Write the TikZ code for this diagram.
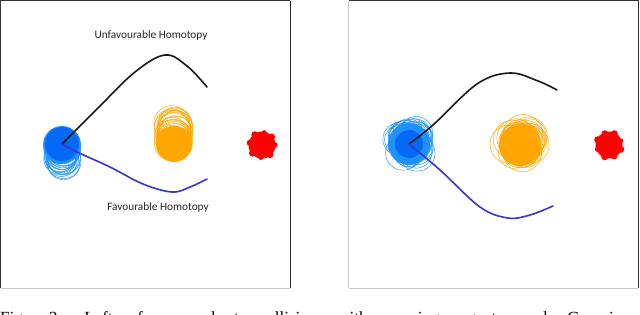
\documentclass[tikz,border=0pt]{standalone}
\usepackage{fontspec}
\newfontfamily\labfont{Carlito}
\newfontfamily\capfont{Liberation Serif}
\definecolor{blueA}{RGB}{5,105,245}
\definecolor{blueB}{RGB}{30,145,255}
\definecolor{orangeA}{RGB}{255,166,0}
\definecolor{redA}{RGB}{255,0,0}
\definecolor{pathblue}{RGB}{55,55,200}
\definecolor{darkedge}{RGB}{50,50,50}
\definecolor{lightedge}{RGB}{200,200,200}
\tikzset{
  traj/.style={line width=1.6pt, line cap=round, line join=round},
  lab/.style={font=\labfont\fontsize{11.3}{13}\selectfont, inner sep=0pt, text=black!85},
  ring/.style={line width=0.45pt},
}
\begin{document}
\begin{tikzpicture}[x=1pt,y=-1pt]
\useasboundingbox (0,0) rectangle (640,314);
\fill[white] (0,0) rectangle (640,314);
% ---------- panel frames ----------
\draw[darkedge, line width=0.8pt] (0.5,288) -- (0.5,0.5) -- (290,0.5);
\draw[black!85, line width=1pt] (290,0.5) -- (290,288);
\draw[lightedge, line width=0.8pt] (0.5,288) -- (290,288);
\draw[lightedge, line width=0.8pt] (348.5,288) -- (348.5,0.5);
\draw[darkedge, line width=0.8pt] (348.5,0.5) -- (638,0.5) -- (638,288);
\draw[lightedge, line width=0.8pt] (348.5,288) -- (638,288);

% ---------- LEFT PANEL ----------
\pgfmathsetseed{11}
% blue agent trail (downwards)
\foreach \i in {1,...,22}{
  \pgfmathsetmacro\dx{rand*2.5}
  \pgfmathsetmacro\dy{rnd*21}
  \pgfmathsetmacro\rr{15+rnd*2.5}
  \draw[blueB, ring] (62+\dx,144+\dy) circle[radius=\rr];
}
\fill[blueB] (62,145) circle[radius=19];
\fill[blueA] (62,144) circle[radius=17];
% orange trail (upwards)
\foreach \i in {1,...,22}{
  \pgfmathsetmacro\dx{rand*2.5}
  \pgfmathsetmacro\dy{rnd*21}
  \pgfmathsetmacro\rr{16+rnd*2}
  \draw[orangeA, ring] (174+\dx,144-\dy) circle[radius=\rr];
}
\fill[orangeA] (174,144) circle[radius=18];
% red obstacle
\fill[redA] (262,145) circle[radius=13.5];
\foreach \a/\r in {0/3,50/3.5,95/2.5,140/3.5,190/3,235/3.5,280/2.5,320/3.5}{
  \fill[redA] (262,145) ++(\a:12.5) circle[radius=\r];
}
% trajectories
\coordinate (L0) at (62,144);
\draw[traj, black!90] plot[smooth, tension=0.6] coordinates {(L0) (98,108) (135,72) (165,55) (187,66) (207,87)};
\draw[traj, pathblue] plot[smooth, tension=0.6] coordinates {(L0) (77,152) (110,167) (143,184) (172,192) (190,187) (207,179)};
\node[lab] (unfav) at (151,35) {Unfavourable Homotopy};
\node[lab] (fav) at (158,207) {Favourable Homotopy};

% ---------- RIGHT PANEL ----------
\pgfmathsetseed{5}
\fill[blueB] (409,144) circle[radius=21];
\foreach \i in {1,...,32}{
  \pgfmathsetmacro\dx{rand*11}
  \pgfmathsetmacro\dy{rand*11}
  \pgfmathsetmacro\rr{12+rnd*6}
  \draw[blueB, ring] (409+\dx,144+\dy) circle[radius=\rr];
}
\fill[blueA] (409,144) circle[radius=14];
\fill[orangeA] (520,145) circle[radius=21];
\foreach \i in {1,...,32}{
  \pgfmathsetmacro\dx{rand*11}
  \pgfmathsetmacro\dy{rand*11}
  \pgfmathsetmacro\rr{14+rnd*6}
  \draw[orangeA, ring] (520+\dx,145+\dy) circle[radius=\rr];
}
\fill[redA] (609,145) circle[radius=13.5];
\foreach \a/\r in {20/3.5,65/3,110/3.5,160/2.5,205/3.5,250/3,295/3.5,340/2.5}{
  \fill[redA] (609,145) ++(\a:12.5) circle[radius=\r];
}
\coordinate (R0) at (409,144);
\draw[traj, black!90] plot[smooth, tension=0.6] coordinates {(R0) (433,125) (477,84) (510,73) (538,81) (557,90)};
\draw[traj, pathblue] plot[smooth, tension=0.6] coordinates {(R0) (440,170) (480,207) (508,218) (530,215) (553,206)};

% ---------- clipped caption ----------
\begin{scope}
\clip (0,290) rectangle (640,314);
\node[anchor=base west, inner sep=0pt] (cap) at (0,323.5)
  {\capfont\fontsize{17}{19}\selectfont Fig.\hspace{22pt}2:\hspace{22pt}Left:\hspace{20pt}for\hspace{20pt}a\hspace{20pt}short\hspace{20pt}collision\hspace{20pt}with\hspace{20pt}moving\hspace{20pt}agents\hspace{20pt}and\hspace{20pt}Gaussian};
\end{scope}
\end{tikzpicture}
\end{document}
